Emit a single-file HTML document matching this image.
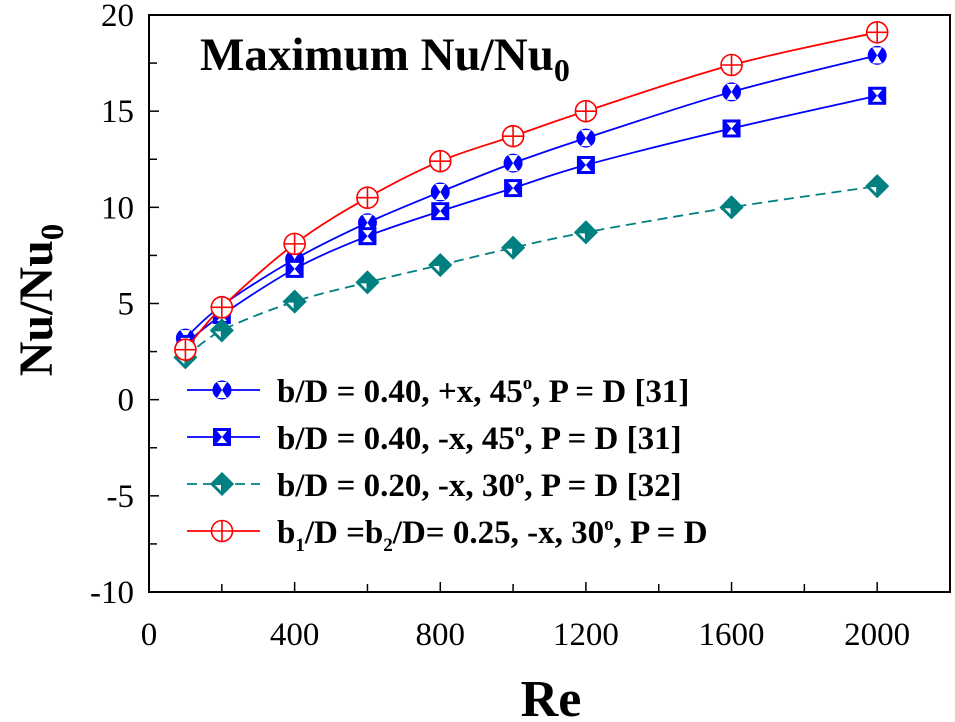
<!DOCTYPE html>
<html><head><meta charset="utf-8"><style>
html,body{margin:0;padding:0;background:#fff}
svg{display:block;font-family:"Liberation Serif",serif}
</style></head><body>
<svg id="chart" width="955" height="722" viewBox="0 0 955 722">
<g id="axes"></g><g id="series"></g><g id="legend"></g>
<text x="200" y="70" font-size="47" font-weight="bold">Maximum Nu/Nu<tspan font-size="32" dy="11">0</tspan></text>
<text transform="translate(52,300) rotate(-90)" text-anchor="middle" font-size="48" font-weight="bold">Nu/Nu<tspan font-size="33" dy="11">0</tspan></text>
<text x="551" y="716" text-anchor="middle" font-size="52" font-weight="bold">Re</text>
</svg>
<script>
const reValues=[100,200,400,600,800,1000,1200,1600,2000];
const seriesCircle=[3.2,4.9,7.3,9.2,10.8,12.3,13.6,16.0,17.9];
const seriesSquare=[2.9,4.4,6.8,8.5,9.8,11.0,12.2,14.1,15.8];
const seriesDiamond=[2.2,3.6,5.1,6.1,7.0,7.9,8.7,10.0,11.1];
const seriesRed=[2.6,4.8,8.1,10.5,12.4,13.7,15.0,17.4,19.1];
const xTicks=[0,400,800,1200,1600,2000];
const yTicks=[-10,-5,0,5,10,15,20];
const legendLabels=[
 'b/D = 0.40, +x, 45<tspan font-size="19" dy="-13">o</tspan><tspan dy="13">, P = D [31]</tspan>',
 'b/D = 0.40, -x, 45<tspan font-size="19" dy="-13">o</tspan><tspan dy="13">, P = D [31]</tspan>',
 'b/D = 0.20, -x, 30<tspan font-size="19" dy="-13">o</tspan><tspan dy="13">, P = D [32]</tspan>',
 'b<tspan font-size="19" dy="8">1</tspan><tspan dy="-8">/D =b</tspan><tspan font-size="19" dy="8">2</tspan><tspan dy="-8">/D= 0.25, -x, 30</tspan><tspan font-size="19" dy="-13">o</tspan><tspan dy="13">, P = D</tspan>'];
const L=149,R=950,T=15,B=592;
const X=v=>L+(v/2200)*(R-L);
const Y=v=>B-(v+10)/30*(B-T);
const NS='http://www.w3.org/2000/svg';
function mk(tag,at,parent){const e=document.createElementNS(NS,tag);for(const k in at)e.setAttribute(k,at[k]);parent.appendChild(e);return e;}
const ax=document.getElementById('axes');
const frame=mk('rect',{x:L,y:T,width:R-L,height:B-T,fill:'none',stroke:'#000','stroke-width':2},ax);


for(let v=200;v<2200;v+=200){const t=mk('line',{x1:X(v),x2:X(v),y1:B,y2:B-(v%400?8:10),stroke:'#000','stroke-width':1.5},ax);

}
for(let v=-7.5;v<20;v+=2.5){const t=mk('line',{x1:L,x2:L+(v%5?8:10),y1:Y(v),y2:Y(v),stroke:'#000','stroke-width':1.5},ax);

}
xTicks.forEach(v=>{const t=mk('text',{x:X(v),y:645,'text-anchor':'middle','font-size':33},ax);t.textContent=v;

});
yTicks.forEach(v=>{const t=mk('text',{x:134,y:Y(v)+11,'text-anchor':'end','font-size':33},ax);t.textContent=v;

});
function smooth(pts){let d='M'+pts[0][0]+','+pts[0][1];for(let i=0;i<pts.length-1;i++){const p0=pts[i-1]||pts[i],p1=pts[i],p2=pts[i+1],p3=pts[i+2]||p2;
const c1=[p1[0]+(p2[0]-p0[0])/6,p1[1]+(p2[1]-p0[1])/6],c2=[p2[0]-(p3[0]-p1[0])/6,p2[1]-(p3[1]-p1[1])/6];
d+=' C'+c1+' '+c2+' '+p2;}return d;}
function marker(type,cx,cy,g){
 if(type==='circle'){mk('circle',{cx,cy,r:9.5,fill:'#0000ff'},g);
  mk('path',{d:`M${cx-5},${cy-8}L${cx+5},${cy-8}L${cx},${cy}Z M${cx-5},${cy+8}L${cx+5},${cy+8}L${cx},${cy}Z`,fill:'#fff'},g);}
 else if(type==='square'){mk('rect',{x:cx-9,y:cy-9,width:18,height:18,fill:'#0000ff'},g);
  mk('path',{d:`M${cx-5},${cy-6}L${cx+5},${cy-6}L${cx},${cy}Z M${cx-5},${cy+6}L${cx+5},${cy+6}L${cx},${cy}Z`,fill:'#fff'},g);}
 else if(type==='diamond'){mk('path',{d:`M${cx},${cy-11}L${cx+11},${cy}L${cx},${cy+11}L${cx-11},${cy}Z`,fill:'#008080',stroke:'#008080','stroke-width':1.5},g);
  mk('path',{d:`M${cx-7},${cy+1}L${cx-1},${cy+1}L${cx-1},${cy+7}Z`,fill:'#fff'},g);}
 else {mk('circle',{cx,cy,r:10.5,fill:'#fff',stroke:'#ff0000','stroke-width':1.6},g);
  mk('path',{d:`M${cx-10.5},${cy}H${cx+10.5}M${cx},${cy-10.5}V${cy+10.5}`,stroke:'#ff0000','stroke-width':1.6},g);}
}
const defs=[['circle',seriesCircle,'#0000ff',''],['square',seriesSquare,'#0000ff',''],['diamond',seriesDiamond,'#008080','10 6'],['red',seriesRed,'#ff0000','']];
const sg=document.getElementById('series');
defs.forEach(([type,vals,col,dash],si)=>{
 const g=mk('g',{},sg);
 
 
 const pts=vals.map((v,i)=>[X(reValues[i]),Y(v)]);
 mk('path',{d:smooth(pts),fill:'none',stroke:col,'stroke-width':1.8,'stroke-dasharray':dash},g);
 pts.forEach(p=>{const m=mk('g',{},g);
 
 
 marker(type,p[0],p[1],m);});
});
const lg=document.getElementById('legend');
defs.forEach(([type,vals,col,dash],i)=>{
 const y=390+i*47;
 const g=mk('g',{},lg);
 
 
 mk('line',{x1:187,x2:260,y1:y,y2:y,stroke:col,'stroke-width':1.8,'stroke-dasharray':dash},g);
 marker(type,222,y,g);
 const t=mk('text',{x:277,y:y+12,'font-size':33,'font-weight':'bold'},g);
 t.innerHTML=legendLabels[i];
});
</script>
</body></html>
